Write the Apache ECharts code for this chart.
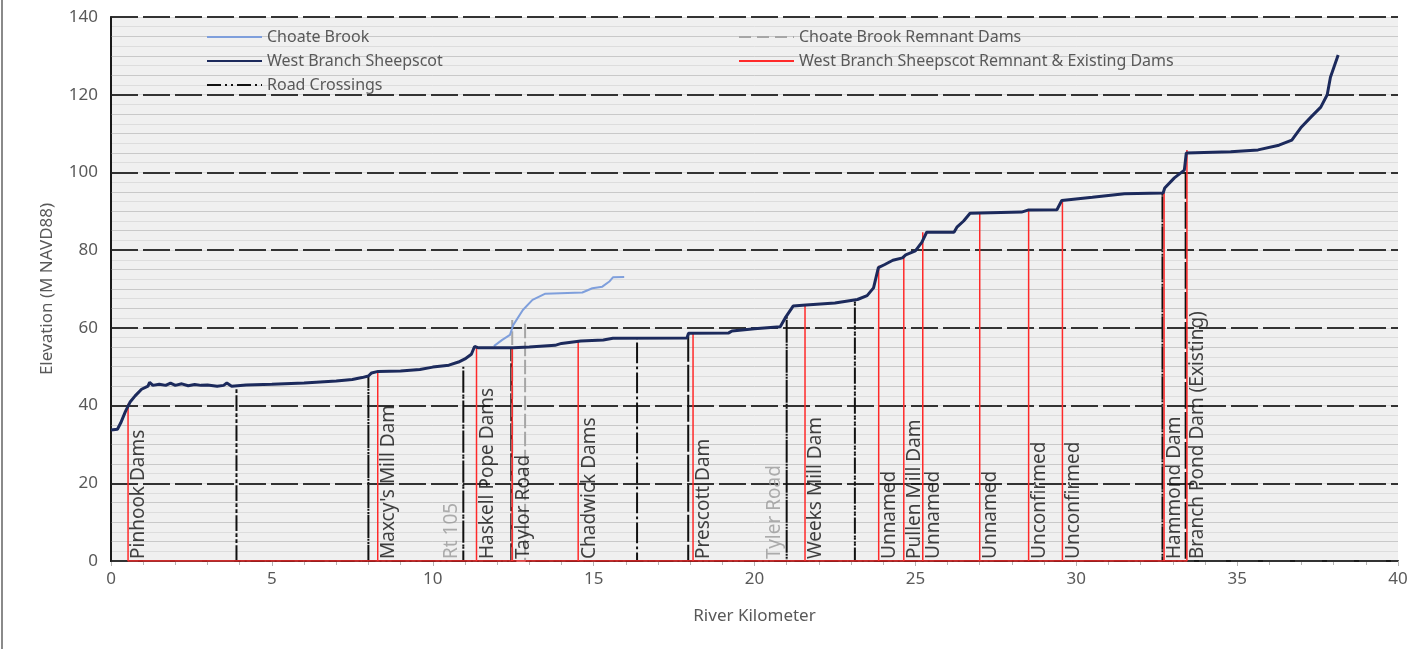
<!DOCTYPE html>
<html>
<head>
<meta charset="utf-8">
<title>West Branch Sheepscot profile</title>
<script src="https://cdn.jsdelivr.net/npm/echarts@6/dist/echarts.min.js"></script>
<style>
  html, body { margin: 0; padding: 0; background: #fff; }
  #main { width: 1421px; height: 649px; box-sizing: border-box; border-left: 2px solid #8a8a8a; margin-left: 1px; }
</style>
</head>
<body>
<div id="main"></div>
<script>
// river km / elevation (m)
var westBranch = [
  [0, 33.7], [0.2, 33.9], [0.3, 35.5], [0.45, 38.5], [0.6, 41], [0.75, 42.5], [0.95, 44.2], [1.15, 45],
  [1.2, 46], [1.3, 45.2], [1.5, 45.5], [1.7, 45.2], [1.85, 45.8], [2.0, 45.2], [2.2, 45.6], [2.4, 45.1],
  [2.6, 45.4], [2.8, 45.2], [3.0, 45.3], [3.3, 45.0], [3.5, 45.2], [3.6, 45.8], [3.75, 45.0], [4.2, 45.3],
  [5.0, 45.5], [6.0, 45.8], [7.0, 46.3], [7.5, 46.7], [7.8, 47.2], [8.0, 47.6], [8.1, 48.4], [8.3, 48.8],
  [9.0, 48.9], [9.6, 49.3], [10.0, 49.9], [10.5, 50.4], [10.8, 51.2], [11.0, 52], [11.2, 53.2], [11.3, 55.2],
  [11.4, 54.9], [12.5, 54.9], [13.0, 55.1], [13.8, 55.5], [14.0, 56], [14.6, 56.6], [15.3, 56.9], [15.6, 57.3],
  [17.9, 57.4], [17.95, 58.6], [19.2, 58.7], [19.3, 59.2], [20.0, 59.8], [20.8, 60.3], [20.95, 62.5], [21.2, 65.6],
  [21.6, 65.9], [22.5, 66.4], [23.2, 67.3], [23.5, 68.3], [23.7, 70.3], [23.85, 75.5], [24.05, 76.3], [24.3, 77.4],
  [24.6, 78], [24.7, 78.8], [25.0, 79.8], [25.2, 82], [25.35, 84.6], [26.2, 84.6], [26.3, 86], [26.5, 87.5],
  [26.7, 89.5], [28.3, 89.8], [28.5, 90.3], [29.4, 90.4], [29.55, 92.8], [30.5, 93.6], [31.5, 94.5], [32.7, 94.7],
  [32.75, 96], [33.05, 98.6], [33.36, 100.6], [33.42, 105], [34.8, 105.3], [35.65, 105.8], [36.3, 107], [36.7, 108.3],
  [37.0, 111.7], [37.3, 114.3], [37.6, 116.8], [37.8, 120], [37.9, 124.5], [38.14, 130.2]
];
var choateBrook = [
  [11.9, 55.3], [12.16, 56.9], [12.4, 58.2], [12.5, 60.7], [12.8, 64.6], [13.1, 67.2], [13.5, 68.8],
  [14.65, 69.1], [14.96, 70.2], [15.27, 70.6], [15.5, 72], [15.6, 73], [15.95, 73.1]
];

var damKm  = [0.53, 8.29, 11.36, 12.47, 14.52, 18.09, 21.57, 23.86, 24.64, 25.23, 27.0, 28.52, 29.57, 32.73, 33.44];
var damTop = [40.5, 48.7, 55.2, 55, 56.4, 58.6, 65.9, 76, 78.2, 84.6, 89.7, 90.3, 92.8, 94.7, 105.8];

var roadKm  = [3.9, 8.0, 10.95, 12.44, 16.35, 17.94, 21.0, 23.12, 32.68, 33.4];
var roadTop = [44.5, 47.5, 50, 55, 57.4, 58.6, 63, 67, 94.7, 100.5];

var cbDamKm  = [12.47, 12.87];
var cbDamTop = [62, 61.5];

var labelNames = ['Pinhook Dams', "Maxcy's Mill Dam", 'Rt 105', 'Haskell Pope Dams', 'Taylor Road', 'Chadwick Dams',
  'Prescott Dam', 'Tyler Road', 'Weeks Mill Dam', 'Unnamed', 'Pullen Mill Dam', 'Unnamed', 'Unnamed',
  'Unconfirmed', 'Unconfirmed', 'Hammond Dam', 'Branch Pond Dam (Existing)'];
var labelKm = [0.53, 8.29, 10.95, 11.36, 12.47, 14.52, 18.09, 21.0, 21.57, 23.86, 24.64, 25.23, 27.0, 28.52, 29.57, 32.71, 33.42];
var grayLabels = ['Rt 105', 'Tyler Road'];

var xTicks = [0, 5, 10, 15, 20, 25, 30, 35, 40];
var yTicks = [0, 20, 40, 60, 80, 100, 120, 140];

var FONT = 'Noto Sans';

// excel style: each marker goes up from 0 and back down
function stems(km, top) {
  var out = [];
  for (var i = 0; i < km.length; i++) {
    out.push([km[i], 0], [km[i], top[i]], [km[i], 0]);
  }
  return out;
}

var labelData = labelNames.map(function (n, i) {
  var gray = grayLabels.indexOf(n) >= 0;
  return {
    value: [labelKm[i], 0],
    name: n,
    label: {
      position: gray ? [-12, -2] : [11, -2],
      color: gray ? '#9a9a9a' : '#111'
    }
  };
});

var chart = echarts.init(document.getElementById('main'), null, { renderer: 'canvas' });

var legendText = { color: '#595959', fontSize: 16, fontFamily: FONT };

var option = {
  animation: false,
  backgroundColor: '#ffffff',
  legend: [
    {
      orient: 'vertical', left: 203, top: 29, padding: 0, itemGap: 8,
      itemWidth: 55, itemHeight: 14, textStyle: legendText,
      itemStyle: { opacity: 0 },  // hide the marker dot, keep the line sample
      data: ['Choate Brook', 'West Branch Sheepscot', 'Road Crossings']
    },
    {
      orient: 'vertical', left: 735, top: 29, padding: 0, itemGap: 8,
      itemWidth: 55, itemHeight: 14, textStyle: legendText,
      itemStyle: { opacity: 0 },
      data: ['Choate Brook Remnant Dams', 'West Branch Sheepscot Remnant & Existing Dams']
    }
  ],
  grid: {
    left: 108, right: 24, top: 17, bottom: 88,
    show: true, backgroundColor: '#f0f0f0', borderWidth: 0
  },
  xAxis: [
    {
      type: 'value', min: 0, max: 40, interval: 5,
      name: 'River Kilometer', nameLocation: 'middle', nameGap: 47,
      nameTextStyle: { color: '#595959', fontSize: 17, fontFamily: FONT },
      axisLine: { show: false },
      axisTick: { show: true, length: 5, lineStyle: { color: '#b5b5b5' } },
      minorTick: { show: true, splitNumber: 5, length: 4, lineStyle: { color: '#b5b5b5' } },
      axisLabel: {
        color: '#595959', fontSize: 17, fontFamily: FONT, margin: 10,
        formatter: function (v) { return xTicks.indexOf(v) >= 0 ? String(v) : ''; }
      },
      splitLine: { show: false }
    },
    {
      type: 'value', min: 0, max: 40, position: 'top',
      axisLine: { show: true, lineStyle: { color: '#1a1a1a', width: 2 } },
      axisTick: { show: false }, axisLabel: { show: false }, splitLine: { show: false }
    }
  ],
  yAxis: [
    {
      type: 'value', min: 0, max: 140, interval: 20, z: 1,
      name: 'Elevation (M NAVD88)', nameLocation: 'middle', nameGap: 55,
      nameTextStyle: { color: '#595959', fontSize: 17, fontFamily: FONT },
      axisLine: { show: true, lineStyle: { color: '#1a1a1a', width: 1.5 } },
      axisTick: { show: false },
      axisLabel: {
        color: '#595959', fontSize: 17, fontFamily: FONT, margin: 13,
        formatter: function (v) { return yTicks.indexOf(v) >= 0 ? String(v) : ''; }
      },
      splitLine: { show: true, lineStyle: { color: '#333333', width: 2, type: [27, 5] } },
      minorTick: { show: false, splitNumber: 4 },
      minorSplitLine: { show: true, lineStyle: { color: '#c9c9c9', width: 1 } }
    },
    {
      type: 'value', min: 0, max: 140, interval: 2.5, position: 'right', z: 0,
      axisLine: { show: true, lineStyle: { color: '#1a1a1a', width: 2 } },
      axisTick: { show: false }, axisLabel: { show: false },
      splitLine: { show: true, lineStyle: { color: '#dddddd', width: 1 } }
    }
  ],
  series: [
    {
      name: 'Choate Brook', type: 'line', data: choateBrook,
      symbol: 'none', z: 4,
      lineStyle: { color: '#7f9fdc', width: 2 }, itemStyle: { color: '#7f9fdc' }
    },
    {
      name: 'West Branch Sheepscot', type: 'line', data: westBranch,
      symbol: 'none', z: 6,
      lineStyle: { color: '#1c2a5c', width: 3 }, itemStyle: { color: '#1c2a5c' }
    },
    {
      name: 'Road Crossings', type: 'line', data: stems(roadKm, roadTop),
      symbol: 'none', z: 3,
      lineStyle: { color: '#111111', width: 2, type: [14, 4, 2, 4, 2, 4] }, itemStyle: { color: '#111111' }
    },
    {
      name: 'Choate Brook Remnant Dams', type: 'line', data: stems(cbDamKm, cbDamTop),
      symbol: 'none', z: 3,
      lineStyle: { color: '#a6a6a6', width: 2, type: [12, 6] }, itemStyle: { color: '#a6a6a6' }
    },
    {
      name: 'West Branch Sheepscot Remnant & Existing Dams', type: 'line', data: stems(damKm, damTop),
      symbol: 'none', z: 5,
      lineStyle: { color: '#ff2a2a', width: 1.5 }, itemStyle: { color: '#ff2a2a' }
    },
    {
      name: 'labels', type: 'scatter', data: labelData,
      symbolSize: 0, z: 10, silent: true,
      label: {
        show: true, rotate: 90, align: 'left', verticalAlign: 'middle',
        fontSize: 19, fontFamily: FONT,
        formatter: function (p) { return p.name; }
      }
    }
  ]
};

chart.setOption(option);
</script>
</body>
</html>
